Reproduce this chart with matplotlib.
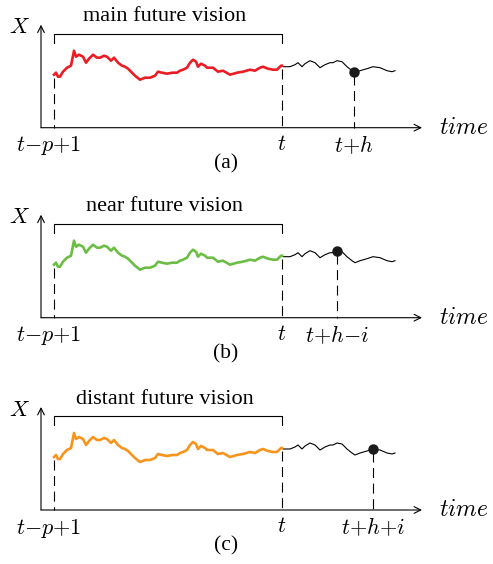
import matplotlib
matplotlib.use("Agg")
import matplotlib.pyplot as plt
import numpy as np

plt.rcParams['font.family'] = ['Liberation Serif', 'DejaVu Serif']
plt.rcParams['mathtext.fontset'] = 'cm'

# observed window: t-p+1 .. t (time steps), value above axis
hist_t = [0, 2, 4, 6, 9, 13, 17, 20, 22, 25, 29, 32, 35, 39, 43, 46, 50, 53, 57,
          60, 64, 68, 71, 74, 78, 81, 86, 91, 96, 101, 104, 108, 113, 118, 123,
          126, 129, 133, 136, 139, 142, 144, 147, 151, 153, 159, 164, 169, 176,
          183, 189, 196, 201, 206, 209, 214, 219, 223, 227, 228]
hist_x = [53, 55, 51, 51, 56, 60, 62, 77, 71, 73, 71, 65, 69, 73, 70, 70, 72, 71, 67,
          70, 65, 62, 61, 59, 55, 52, 48, 50, 50, 52, 56, 55, 54, 55, 55,
          57, 58, 60, 65, 68, 66, 61, 64, 62, 60, 60, 56, 57, 53,
          55, 56, 58, 57, 60, 61, 59, 58, 58, 62, 62]
# future part after t
fut_t = [228, 229, 233, 236, 241, 244, 248, 251, 256, 261, 266, 271, 276, 279,
         283, 288, 293, 298, 301, 306, 313, 319, 326, 333, 338, 341]
fut_x = [62, 61, 61, 61, 63, 65, 61, 64, 67, 65, 60, 63, 65, 65,
         67, 66, 61, 57, 55, 57, 59, 61, 60, 57, 56, 57]

titles = ["main future vision", "near future vision", "distant future vision"]
captions = ["(a)", "(b)", "(c)"]
colors = ["#ec1c24", "#6cbd45", "#f7941d"]
target_t = [300, 283, 319]
target_labels = [r"$t{+}h$", r"$t{+}h{-}i$", r"$t{+}h{+}i$"]
t_start, t_now = 0, 228

W, H = 493, 564
fig = plt.figure(figsize=(W / 100, H / 100), dpi=100)

bases = [127.7, 317.7, 510.0]
x0, x1 = 41, 422
ht = 103
for k in range(3):
    base = bases[k]
    ax = fig.add_axes([x0 / W, (H - base) / H, (x1 - x0) / W, ht / H])
    ax.set_xlim(x0 - 54, x1 - 54)
    ax.set_ylim(0, ht)
    ax.axis("off")

    # axes arrows
    for end in [(x1 - 54, 0), (x0 - 54, ht)]:
        ax.annotate("", xy=end, xytext=(x0 - 54, 0),
                    arrowprops=dict(arrowstyle="->", lw=0.8, color="black",
                                    shrinkA=0, shrinkB=0, mutation_scale=12),
                    annotation_clip=False)
    ax.text(-35, ht - 4, r"$X$", fontsize=16, ha="center", va="center")
    ax.text(410, -1, r"$time$", fontsize=17, ha="center", va="center")

    # series
    ax.plot(fut_t, fut_x, color="black", lw=0.8, clip_on=False, zorder=3)
    ax.plot(hist_t, hist_x, color=colors[k], lw=1.9, clip_on=False, zorder=4)
    yt = np.interp(target_t[k], fut_t, fut_x)
    ax.plot([target_t[k]], [yt], "o", color="#1a1a1a", ms=6.5, zorder=5, clip_on=False)

    # dashed guides
    for tt, yy in [(t_start, hist_x[0] - 3), (t_now, hist_x[-1] - 3), (target_t[k], yt - 3)]:
        ax.plot([tt, tt], [yy, 0], color="black", lw=0.8, ls=(0, (9, 5)), clip_on=False)

    # bracket
    by = ht - 9
    ax.plot([t_start, t_start, t_now, t_now], [by - 9, by, by, by - 9],
            color="black", lw=0.8, clip_on=False)
    ax.text((t_start + t_now) / 2 - 3, by + 17, titles[k], fontsize=16,
            ha="center", va="center")

    # tick labels
    ax.text(t_start - 5, -18, r"$t{-}p{+}1$", fontsize=16, ha="center", va="center")
    ax.text(t_now, -18, r"$t$", fontsize=16, ha="center", va="center")
    ax.text(target_t[k], -18, target_labels[k], fontsize=16, ha="center", va="center")
    ax.text(172, -36, captions[k], fontsize=15.5, ha="center", va="center")

fig.savefig("out.png", dpi=100)
